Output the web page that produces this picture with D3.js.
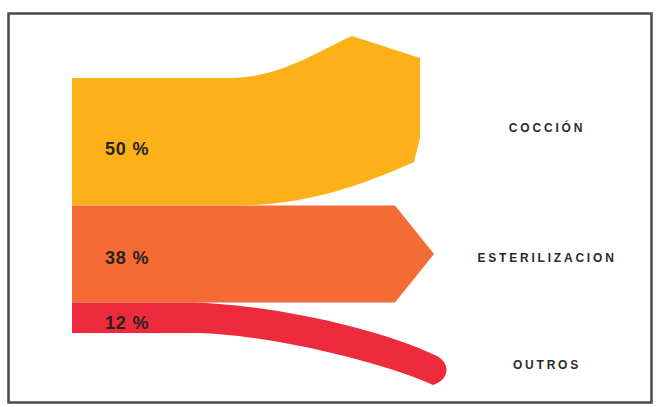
<!DOCTYPE html>
<html>
<head>
<meta charset="utf-8">
<script src="https://cdn.jsdelivr.net/npm/d3@7"></script>
<style>
  body { margin: 0; background: #fff; }
  svg { display: block; }
</style>
</head>
<body>
<svg width="656" height="407"></svg>
<script>
// data
var categories = ["COCCIÓN", "ESTERILIZACION", "OUTROS"];
var values = [50, 38, 12];
var pctLabels = ["50 %", "38 %", "12 %"];
var colors = ["#FBB117", "#F46B36", "#EE2A3D"];

var svg = d3.select("svg");

// frame
svg.append("rect")
    .attr("x", 8.5).attr("y", 13.5)
    .attr("width", 643).attr("height", 389)
    .attr("fill", "#fff")
    .attr("stroke", "#4a4a4a")
    .attr("stroke-width", 2.5);

var x0 = 72;
var y = d3.scaleLinear().domain([0, d3.sum(values)]).range([78, 333]);
var cum = [0].concat(Array.from(d3.cumsum(values)));

var bands = categories.map(function(c, i) {
    return { name: c, value: values[i], label: pctLabels[i], color: colors[i],
             y0: y(cum[i]), y1: y(cum[i + 1]) };
});

// each flow gets its own shape: bending up, straight arrow, bending down
var shapes = [
    function(b) {
        var p = d3.path();
        p.moveTo(x0, b.y0);
        p.lineTo(230, b.y0);
        p.bezierCurveTo(280, b.y0, 320, b.y0 - 28, 352, b.y0 - 42);
        p.lineTo(420, b.y0 - 20);
        p.lineTo(420, b.y0 + 60);
        p.lineTo(414, b.y0 + 84);
        p.bezierCurveTo(350, b.y1 - 15, 300, b.y1, 230, b.y1);
        p.lineTo(x0, b.y1);
        p.closePath();
        return p.toString();
    },
    function(b) {
        var p = d3.path();
        p.moveTo(x0, b.y0);
        p.lineTo(395, b.y0);
        p.lineTo(434, (b.y0 + b.y1) / 2);
        p.lineTo(395, b.y1);
        p.lineTo(x0, b.y1);
        p.closePath();
        return p.toString();
    },
    function(b) {
        var p = d3.path();
        p.moveTo(x0, b.y0);
        p.lineTo(185, b.y0);
        p.bezierCurveTo(255, b.y0, 370, b.y0 + 22, 438, b.y0 + 54);
        p.bezierCurveTo(451, b.y0 + 62, 449, b.y1 + 47, 433, b.y1 + 52);
        p.bezierCurveTo(390, b.y1 + 32, 270, b.y1, 190, b.y1);
        p.lineTo(x0, b.y1);
        p.closePath();
        return p.toString();
    }
];

svg.selectAll("path.flow")
    .data(bands)
    .enter()
    .append("path")
    .attr("class", "flow")
    .attr("d", function(d, i) { return shapes[i](d); })
    .attr("fill", function(d) { return d.color; });

// percent labels
var pctOffset = [7, 4, 5];
svg.selectAll("text.pct")
    .data(bands)
    .enter()
    .append("text")
    .attr("class", "pct")
    .attr("x", 105)
    .attr("y", function(d, i) { return (d.y0 + d.y1) / 2 + pctOffset[i]; })
    .attr("dominant-baseline", "central")
    .attr("font-family", "'Liberation Sans', Arial, sans-serif")
    .attr("font-weight", "bold")
    .attr("font-size", 18)
    .attr("letter-spacing", 0.8)
    .attr("fill", "#2b2220")
    .text(function(d) { return d.label; });

// category names on the right
var nameY = d3.scaleOrdinal().domain(categories).range([128, 258, 365]);
svg.selectAll("text.name")
    .data(bands)
    .enter()
    .append("text")
    .attr("class", "name")
    .attr("x", 547)
    .attr("y", function(d) { return nameY(d.name); })
    .attr("text-anchor", "middle")
    .attr("dominant-baseline", "central")
    .attr("font-family", "'Liberation Sans', Arial, sans-serif")
    .attr("font-weight", "bold")
    .attr("font-size", 12)
    .attr("letter-spacing", 2.8)
    .attr("fill", "#2a2a2a")
    .text(function(d) { return d.name; });
</script>
</body>
</html>
